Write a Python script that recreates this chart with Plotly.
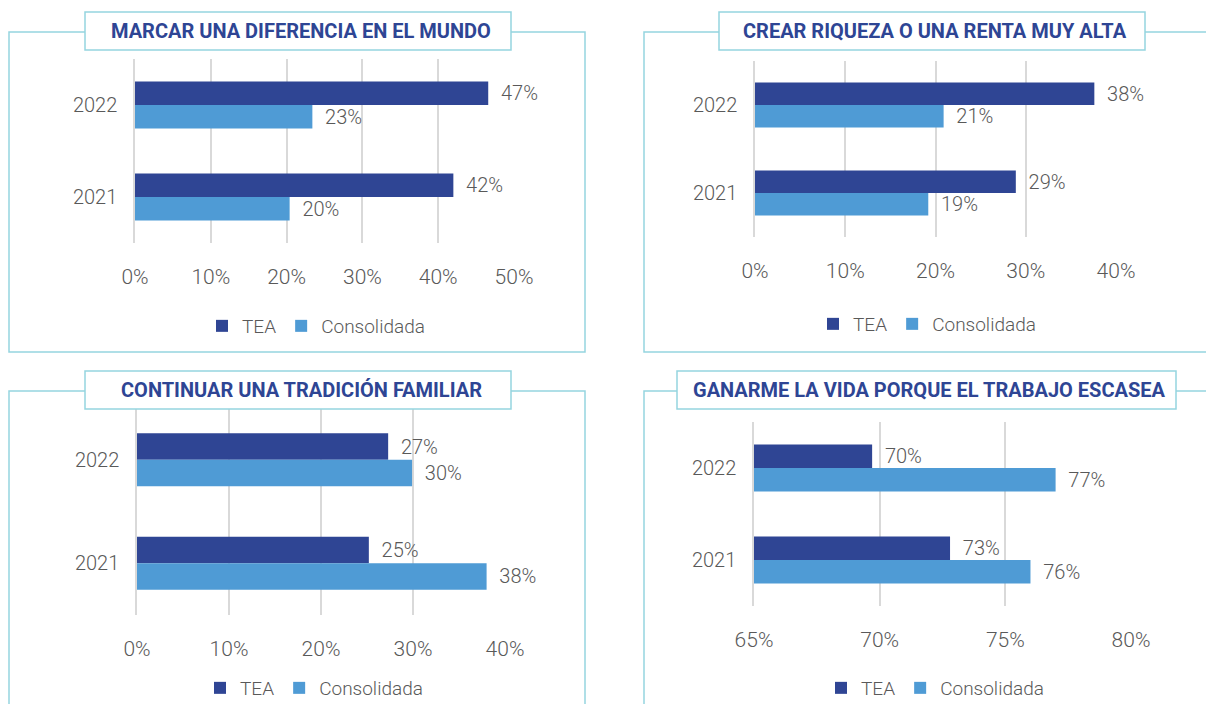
import plotly.graph_objects as go

# ---------------- data ----------------
years = ["2022", "2021"]
series_names = ["TEA", "Consolidada"]

titles = [
    "MARCAR UNA DIFERENCIA EN EL MUNDO",
    "CREAR RIQUEZA O UNA RENTA MUY ALTA",
    "CONTINUAR UNA TRADICIÓN FAMILIAR",
    "GANARME LA VIDA PORQUE EL TRABAJO ESCASEA",
]

diferencia_tea = [46.6, 42.0]
diferencia_cons = [23.4, 20.4]
riqueza_tea = [37.6, 28.9]
riqueza_cons = [20.9, 19.2]
tradicion_tea = [27.3, 25.2]
tradicion_cons = [29.9, 38.0]
ganarme_tea = [69.7, 72.8]
ganarme_cons = [77.0, 76.0]

ticks_p1 = [0, 10, 20, 30, 40, 50]
ticks_p2 = [0, 10, 20, 30, 40]
ticks_p3 = [0, 10, 20, 30, 40]
ticks_p4 = [65, 70, 75, 80]

panel_values = [
    (diferencia_tea, diferencia_cons),
    (riqueza_tea, riqueza_cons),
    (tradicion_tea, tradicion_cons),
    (ganarme_tea, ganarme_cons),
]
panel_ticks = [ticks_p1, ticks_p2, ticks_p3, ticks_p4]

# ---------------- style / layout ----------------
# the page body has an 8px default margin, so the figure is drawn from (8, 8)
OFF = 8
W, H = 1214 - OFF, 704 - OFF
C_TEA = "#2F4594"
C_CONS = "#4F9BD5"
C_BORDER = "#95D5E0"
C_GRID = "#D9D9D9"
C_TEXT = "#595959"
C_TITLE = "#2E4594"
FONT = "Liberation Sans Narrow, Roboto, sans-serif"
TFONT = "Roboto, DejaVu Sans, sans-serif"
FS = 20


def fx(px):
    return (px - OFF) / W


def fy(py):
    return 1 - (py - OFF) / H


# plot areas in window pixels: (x0, x1, ytop, ybottom)
plot_px = [
    (135, 514, 59, 243),
    (755, 1116, 61, 237),
    (137, 505, 408, 615),
    (754, 1131, 422, 606),
]
outer_px = [
    (9, 585, 32, 352),
    (644, 1222, 32, 352),
    (9, 585, 391, 712),
    (644, 1222, 391, 712),
]
title_px = [
    (85, 511, 12, 50),
    (719, 1145, 12, 50),
    (85, 511, 371, 409),
    (677, 1176, 371, 409),
]
legend_px = [(316, 326), (927, 324), (314, 688), (935, 688)]

fig = go.Figure()
layout = dict(
    width=W,
    height=H,
    margin=dict(l=0, r=0, t=0, b=0, autoexpand=False),
    paper_bgcolor="white",
    plot_bgcolor="white",
    barmode="group",
    bargap=0.49,
    bargroupgap=0,
    font=dict(family=FONT, color=C_TEXT, size=FS),
    shapes=[],
    annotations=[],
)

for i in range(4):
    n = "" if i == 0 else str(i + 1)
    xa, ya = "x" + n, "y" + n
    lg = "legend" + n
    tea, cons = panel_values[i]
    for name, vals, col in ((series_names[0], tea, C_TEA), (series_names[1], cons, C_CONS)):
        fig.add_trace(go.Bar(
            y=years, x=vals, name=name, orientation="h",
            marker=dict(color=col, line=dict(width=0)),
            text=["\u00a0\u00a0" + f"{round(v)}%" for v in vals],
            textposition="outside", cliponaxis=False, constraintext="none",
            textfont=dict(family=FONT, size=FS, color=C_TEXT, weight=300),
            xaxis=xa, yaxis=ya, legend=lg, hoverinfo="skip",
        ))
    x0, x1, yt, yb = plot_px[i]
    ticks = panel_ticks[i]
    layout["xaxis" + n] = dict(
        domain=[fx(x0), fx(x1)], range=[ticks[0], ticks[-1]], anchor=ya,
        tickvals=ticks, ticktext=[f"{t}%" for t in ticks], automargin=False,
        showgrid=True, gridcolor=C_GRID, gridwidth=1.5, zeroline=False,
        showline=False, ticks="", ticklabelstandoff=19,
        tickfont=dict(family=FONT, size=FS + 1, color=C_TEXT, weight=300), fixedrange=True,
    )
    layout["yaxis" + n] = dict(
        domain=[fy(yb), fy(yt)], anchor=xa, type="category", automargin=False,
        categoryorder="array", categoryarray=years, autorange="reversed",
        showgrid=False, zeroline=False, showline=True, linecolor=C_GRID,
        linewidth=1.5, ticks="", ticklabelstandoff=12,
        tickfont=dict(family=FONT, size=FS, color=C_TEXT, weight=300), fixedrange=True,
    )
    lx, ly = legend_px[i]
    layout[lg] = dict(
        orientation="h", x=fx(lx), y=fy(ly), xanchor="center", yanchor="middle",
        font=dict(family=FONT, size=FS - 1, color=C_TEXT, weight=300), itemwidth=30,
        bgcolor="rgba(0,0,0,0)", traceorder="normal", tracegroupgap=0,
    )
    # outer frame
    ox0, ox1, oy0, oy1 = outer_px[i]
    layout["shapes"].append(dict(
        type="rect", xref="paper", yref="paper", x0=fx(ox0), x1=fx(ox1),
        y0=fy(oy1), y1=fy(oy0), line=dict(color=C_BORDER, width=1.5),
        fillcolor="rgba(0,0,0,0)", layer="above",
    ))
    # title box
    tx0, tx1, ty0, ty1 = title_px[i]
    layout["shapes"].append(dict(
        type="rect", xref="paper", yref="paper", x0=fx(tx0), x1=fx(tx1),
        y0=fy(ty1), y1=fy(ty0), line=dict(color=C_BORDER, width=1.5),
        fillcolor="white", layer="above",
    ))
    layout["annotations"].append(dict(
        xref="paper", yref="paper", x=fx((tx0 + tx1) / 2 + 3), y=fy((ty0 + ty1) / 2),
        text="<b>" + titles[i] + "</b>", showarrow=False,
        xanchor="center", yanchor="middle",
        font=dict(family=TFONT, size=20, color=C_TITLE),
    ))

fig.update_layout(**layout)
fig.write_html("out.html")
